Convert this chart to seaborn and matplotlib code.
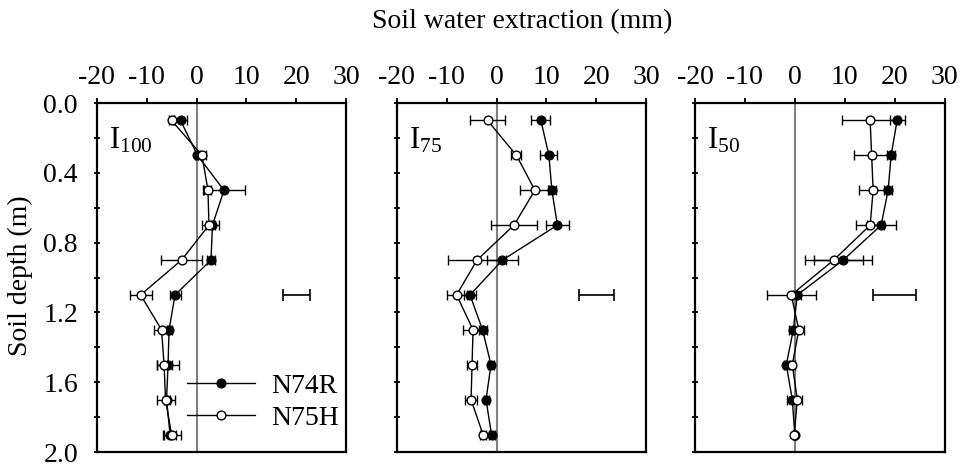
import matplotlib
matplotlib.use("Agg")
import matplotlib.pyplot as plt
import numpy as np
import pandas as pd
import seaborn as sns
from matplotlib.ticker import MultipleLocator

sns.set_theme(style="ticks")
plt.rcParams["font.family"] = ["Liberation Serif", "DejaVu Serif"]
plt.rcParams["mathtext.fontset"] = "custom"
plt.rcParams["mathtext.rm"] = "Liberation Serif"
plt.rcParams["mathtext.it"] = "Liberation Serif:italic"
plt.rcParams["axes.unicode_minus"] = False
plt.rcParams["text.color"] = "black"
plt.rcParams["xtick.color"] = "black"
plt.rcParams["ytick.color"] = "black"

# Soil layer mid-depths (m)
depth = [0.1, 0.3, 0.5, 0.7, 0.9, 1.1, 1.3, 1.5, 1.7, 1.9]

# Irrigation treatments
treatments = ["I100", "I75", "I50"]
panel_labels = [r"I$_{\mathrm{100}}$", r"I$_{\mathrm{75}}$", r"I$_{\mathrm{50}}$"]
cultivars = ["N74R", "N75H"]

# Soil water extraction (mm) and its standard errors
i100_n74r = [-3.2, 0.2, 5.5, 3.2, 2.9, -4.3, -5.5, -5.7, -6.0, -5.3]
i100_n74r_se = [1.3, 0.5, 4.2, 1.3, 0.8, 1.1, 0.5, 2.2, 0.6, 1.2]
i100_n75h = [-5.0, 1.1, 2.3, 2.5, -3.0, -11.2, -7.0, -6.5, -6.2, -5.0]
i100_n75h_se = [0.5, 0.8, 0.7, 1.3, 4.1, 2.2, 1.5, 1.5, 1.8, 1.8]

i75_n74r = [8.9, 10.5, 11.1, 12.2, 1.2, -5.3, -2.8, -1.1, -2.1, -1.0]
i75_n74r_se = [1.9, 1.7, 0.8, 2.3, 3.1, 1.2, 0.8, 0.6, 0.5, 0.6]
i75_n75h = [-1.8, 4.0, 7.7, 3.5, -3.9, -8.0, -4.7, -4.9, -5.1, -2.7]
i75_n75h_se = [3.5, 1.0, 2.9, 4.7, 5.8, 2.0, 2.0, 1.0, 1.2, 0.6]

i50_n74r = [20.5, 19.3, 18.7, 17.3, 9.7, 0.5, -0.3, -1.7, -0.5, 0.0]
i50_n74r_se = [1.5, 0.8, 0.8, 2.9, 5.8, 0.8, 0.8, 0.5, 1.0, 0.3]
i50_n75h = [15.1, 15.4, 15.7, 15.1, 7.8, -0.7, 0.8, -0.5, 0.5, -0.1]
i50_n75h_se = [5.7, 3.6, 2.8, 2.8, 5.8, 4.9, 1.0, 0.5, 1.0, 0.3]

# LSD bar per treatment (centre, half width) at 1.1 m
lsd_center = [20.0, 20.0, 20.0]
lsd_half = [2.75, 3.5, 4.25]
lsd_depth = 1.1

values = {
    ("I100", "N74R"): (i100_n74r, i100_n74r_se),
    ("I100", "N75H"): (i100_n75h, i100_n75h_se),
    ("I75", "N74R"): (i75_n74r, i75_n74r_se),
    ("I75", "N75H"): (i75_n75h, i75_n75h_se),
    ("I50", "N74R"): (i50_n74r, i50_n74r_se),
    ("I50", "N75H"): (i50_n75h, i50_n75h_se),
}

rows = []
for (trt, cv), (vals, ses) in values.items():
    for d, v, s in zip(depth, vals, ses):
        rows.append({"treatment": trt, "cultivar": cv, "depth": d,
                     "extraction": v, "se": s})
df = pd.DataFrame(rows)

style = {
    "N74R": dict(markerfacecolor="black", markeredgecolor="black"),
    "N75H": dict(markerfacecolor="white", markeredgecolor="black"),
}

W, H = 966, 465
fig = plt.figure(figsize=(W / 100, H / 100), dpi=100)
lefts = [96.7, 396.7, 695.0]
ax_w, top_px, bot_px = 249.5, 103.0, 452.0

for i, trt in enumerate(treatments):
    ax = fig.add_axes([lefts[i] / W, 1 - bot_px / H, ax_w / W, (bot_px - top_px) / H])
    ax.axvline(0, color="#808080", lw=1.5, zorder=1)
    sub = df[df.treatment == trt]
    for k, cv in enumerate(cultivars):
        d = sub[sub.cultivar == cv]
        ax.errorbar(d["extraction"], d["depth"], xerr=d["se"], fmt="none",
                    ecolor="black", elinewidth=1.0, capsize=3.6, capthick=1.0,
                    zorder=2 + 2 * k)
        sns.lineplot(data=d, x="extraction", y="depth", orient="y", sort=False,
                     estimator=None, color="black", lw=1.0, marker="o",
                     markersize=6.3, markeredgewidth=1.0, ax=ax, label=cv,
                     zorder=3 + 2 * k, **style[cv])
    ax.errorbar([lsd_center[i]], [lsd_depth], xerr=[lsd_half[i]], fmt="none",
                ecolor="black", elinewidth=1.2, capsize=4.5, capthick=1.2)

    ax.set_xlim(-20, 30)
    ax.set_ylim(2.0, 0.0)
    ax.xaxis.set_major_locator(MultipleLocator(10))
    ax.yaxis.set_major_locator(MultipleLocator(0.4))
    ax.yaxis.set_minor_locator(MultipleLocator(0.2))
    ax.xaxis.tick_top()
    ax.tick_params(axis="x", which="both", top=True, bottom=False, direction="out",
                   length=3.5, width=1.3, labelsize=20, pad=6, colors="black")
    ax.tick_params(axis="y", which="both", left=True, right=False, direction="inout",
                   length=5, width=1.3, labelsize=20, pad=11, colors="black")
    ax.set_xlabel("")
    ax.set_ylabel("")
    ax.yaxis.set_major_formatter(plt.FormatStrFormatter("%.1f"))
    if i > 0:
        ax.tick_params(axis="y", labelleft=False)
    for sp in ax.spines.values():
        sp.set_visible(True)
        sp.set_linewidth(1.6)
        sp.set_color("black")
    ax.text(0.05, 0.935, panel_labels[i], transform=ax.transAxes, fontsize=22,
            ha="left", va="top", color="black")
    if i == 0:
        ax.legend(loc="center left", bbox_to_anchor=(0.361, 0.143), frameon=False,
                  fontsize=20, handlelength=2.45, handletextpad=0.6,
                  labelspacing=0.22, borderpad=0, borderaxespad=0, numpoints=1)
    else:
        leg = ax.get_legend()
        if leg is not None:
            leg.remove()

fig.text(522 / W, 1 - 22 / H, "Soil water extraction (mm)", ha="center", va="center",
         fontsize=20, color="black")
fig.text(20 / W, 1 - 276 / H, "Soil depth (m)", ha="center", va="center",
         rotation=90, fontsize=20, color="black")

fig.savefig("out.png", dpi=100, facecolor="white")
